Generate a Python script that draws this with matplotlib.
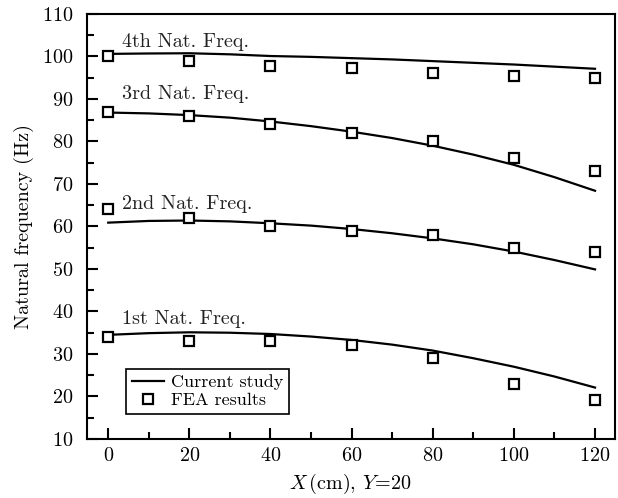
import matplotlib
matplotlib.use('Agg')
import matplotlib.pyplot as plt
from matplotlib.ticker import MultipleLocator

plt.rcParams['font.family'] = 'serif'
plt.rcParams['font.serif'] = ['cmr10', 'DejaVu Serif']
plt.rcParams['mathtext.fontset'] = 'cm'
plt.rcParams['axes.formatter.use_mathtext'] = True

# current study (every 10 cm)
x_curve = [0, 10, 20, 30, 40, 50, 60, 70, 80, 90, 100, 110, 120]
f1_curve = [34.5, 34.9, 35.1, 35.0, 34.7, 34.1, 33.3, 32.2, 30.8, 29.0, 27.0, 24.7, 22.1]
f2_curve = [60.9, 61.3, 61.4, 61.2, 60.75, 60.2, 59.4, 58.4, 57.2, 55.8, 54.1, 52.1, 49.9]
f3_curve = [86.8, 86.6, 86.2, 85.6, 84.7, 83.6, 82.3, 80.8, 79.0, 76.9, 74.5, 71.6, 68.4]
f4_curve = [100.6, 100.7, 100.75, 100.5, 100.1, 99.9, 99.6, 99.3, 98.9, 98.5, 98.1, 97.6, 97.1]

# FEA results
x_fea = [0, 20, 40, 60, 80, 100, 120]
f1_fea = [34, 33, 33, 32, 29, 23, 19.2]
f2_fea = [64, 62, 60, 59, 58, 55, 54]
f3_fea = [87, 86, 84, 82, 80, 76, 73]
f4_fea = [100, 99, 97.8, 97.3, 96, 95.4, 95]

labels = ['1st Nat. Freq.', '2nd Nat. Freq.', '3rd Nat. Freq.', '4th Nat. Freq.']
label_y = [38.3, 65.3, 91.2, 103.4]

fig = plt.figure(figsize=(6.18, 4.98), dpi=100)
ax = fig.add_axes([0.141, 0.1185, 0.854, 0.8535])

curves = [f1_curve, f2_curve, f3_curve, f4_curve]
feas = [f1_fea, f2_fea, f3_fea, f4_fea]
for i in range(4):
    ax.plot(x_curve, curves[i], color='black', lw=1.6,
            label='Current study' if i == 0 else None)
    ax.plot(x_fea, feas[i], 's', mfc='white', mec='black', ms=6.5, mew=1.6,
            label='FEA results' if i == 0 else None)
    ax.text(3.5, label_y[i], labels[i], fontsize=14.5, color='#222222', va='center')

ax.set_xlim(-5.2, 124.9)
ax.set_ylim(10, 110)
ax.xaxis.set_major_locator(MultipleLocator(20))
ax.xaxis.set_minor_locator(MultipleLocator(10))
ax.yaxis.set_major_locator(MultipleLocator(10))
ax.yaxis.set_minor_locator(MultipleLocator(5))
ax.tick_params(which='both', direction='in', top=False, right=False, width=1.5, labelsize=14.5)
ax.tick_params(which='major', length=8)
ax.tick_params(which='minor', length=5)
ax.tick_params(axis='x', pad=6)
ax.tick_params(axis='y', pad=10)
for s in ax.spines.values():
    s.set_linewidth(1.5)

ax.set_xlabel(r'$X\,$(cm), $Y\!=\!20$', fontsize=14.5, labelpad=5)
ax.set_ylabel('Natural frequency (Hz)', fontsize=14.5, labelpad=6)

leg = ax.legend(loc='lower left', bbox_to_anchor=(0.074, 0.059), borderaxespad=0,
                fontsize=13, frameon=True, fancybox=False, edgecolor='black',
                framealpha=1, handlelength=1.8, borderpad=0.3, labelspacing=0.15,
                handletextpad=0.4)
leg.get_frame().set_linewidth(1.2)

fig.savefig('out.png', dpi=100)
